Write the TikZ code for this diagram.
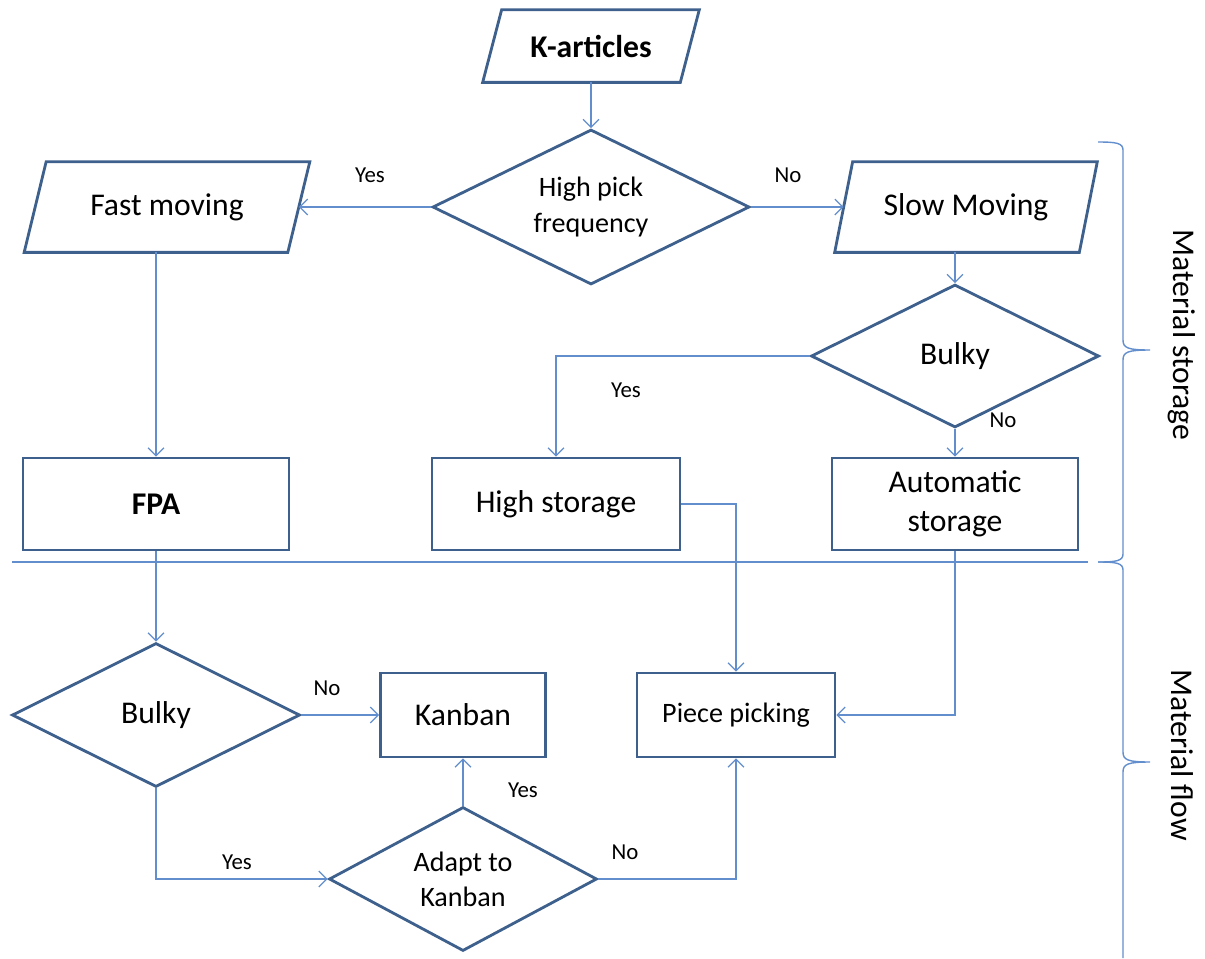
\documentclass[tikz,border=0pt]{standalone}
\usepackage{fontspec}
\setmainfont{Carlito}
\usepackage{tikz}
\usetikzlibrary{shapes.geometric, positioning, arrows.meta}

\definecolor{boxblue}{RGB}{62,96,140}
\definecolor{lineblue}{RGB}{98,142,205}

\tikzset{
  box/.style={draw=boxblue, line width=1.6pt, rectangle, align=center, inner sep=0pt,
    font=\fontsize{18}{22}\selectfont},
  slantbox/.style={rectangle, inner sep=0pt, font=\fontsize{18}{22}\selectfont},
  outline/.style={draw=boxblue, line width=1.6pt, line join=miter},
  decision/.style={draw=boxblue, line width=1.6pt, diamond, shape aspect=2, align=center, inner sep=0pt,
    font=\fontsize{16}{20}\selectfont},
  flow/.style={draw=lineblue, line width=0.7pt, -{Straight Barb[length=4.5pt,width=9pt]}},
  answer/.style={font=\fontsize{13}{15}\selectfont},
  bar/.style={draw=lineblue, line width=0.8pt}
}

\begin{document}
\begin{tikzpicture}[x=0.02cm, y=-0.02cm]
    \useasboundingbox (0,0) rectangle (1205,958);
    \clip (0,0) rectangle (1205,958);

    % material storage
    \node[slantbox, minimum width=3.94cm, minimum height=1.44cm, font=\fontsize{18}{22}\selectfont\bfseries]
        (kart) at (591,46) {K-articles};
    \draw[outline] ([xshift=-0.19cm]kart.south west) -- ([xshift=0.19cm]kart.north west)
        -- ([xshift=0.19cm]kart.north east) -- ([xshift=-0.19cm]kart.south east) -- cycle;
    \node[decision, minimum width=6.34cm, minimum height=3.1cm] (hpf) at (591,207) {High pick\\frequency};
    \node[slantbox, minimum width=5.26cm, minimum height=1.8cm] (fast) at (167,207) {Fast moving};
    \draw[outline] ([xshift=-0.22cm]fast.south west) -- ([xshift=0.22cm]fast.north west)
        -- ([xshift=0.22cm]fast.north east) -- ([xshift=-0.22cm]fast.south east) -- cycle;
    \node[slantbox, minimum width=4.88cm, minimum height=1.8cm] (slow) at (966,207) {Slow Moving};
    \draw[outline] ([xshift=-0.18cm]slow.south west) -- ([xshift=0.18cm]slow.north west)
        -- ([xshift=0.18cm]slow.north east) -- ([xshift=-0.18cm]slow.south east) -- cycle;
    \node[decision, minimum width=5.76cm, minimum height=2.86cm, font=\fontsize{18}{22}\selectfont]
        (bulkyA) at (955,356) {Bulky};
    \node[box, minimum width=5.32cm, minimum height=1.84cm, font=\fontsize{18}{22}\selectfont\bfseries]
        (fpa) at (156,504) {FPA};
    \node[box, minimum width=4.96cm, minimum height=1.84cm] (hstore) at (556,504) {High storage};
    \node[box, minimum width=4.92cm, minimum height=1.84cm] (astore) at (955,504) {Automatic\\storage};

    % material flow
    \node[decision, minimum width=5.76cm, minimum height=2.88cm, font=\fontsize{18}{22}\selectfont]
        (bulkyB) at (156,715) {Bulky};
    \node[box, minimum width=3.3cm, minimum height=1.68cm] (kanban) at (463,715) {Kanban};
    \node[box, minimum width=3.96cm, minimum height=1.68cm, font=\fontsize{16}{20}\selectfont]
        (pick) at (736,715) {Piece picking};
    \node[decision, minimum width=5.36cm, minimum height=2.88cm] (adapt) at (463,879) {Adapt to\\Kanban};

    % connectors
    \draw[flow] (kart.south) -- (hpf.north);
    \draw[flow] (hpf.west) -- (fast.east);
    \draw[flow] (hpf.east) -- (slow.west);
    \draw[flow] (fast.south -| fpa.north) -- (fpa.north);
    \draw[flow] (slow.south -| bulkyA.north) -- (bulkyA.north);
    \draw[flow] (bulkyA.west) -| (hstore.north);
    \draw[flow] (bulkyA.south) -- (astore.north);
    \draw[flow] (fpa.south) -- (bulkyB.north);
    \draw[flow] (bulkyB.east) -- (kanban.west);
    \draw[flow] (bulkyB.south) |- (adapt.west);
    \draw[flow] (adapt.north) -- (kanban.south);
    \draw[flow] (adapt.east) -| (pick.south);
    \draw[flow] (hstore.east) -| (pick.north);
    \draw[flow] (astore.south) |- (pick.east);

    % answers
    \node[answer] (yesA) at (370,175) {Yes};
    \node[answer] (noA) at (788,175) {No};
    \node[answer] (yesB) at (626,390) {Yes};
    \node[answer] (noB) at (1003,420) {No};
    \node[answer] (noC) at (327,688) {No};
    \node[answer] (yesC) at (523,790) {Yes};
    \node[answer] (yesD) at (237,862) {Yes};
    \node[answer] (noD) at (625,852) {No};

    % separator and braces
    \draw[bar] (12,562) -- (1088,562);
    \draw[bar] (1098,142) .. controls (1116,142) and (1123,143) .. (1123,150)
        -- (1123,340) .. controls (1123,348) and (1128,350) .. (1150,350)
        .. controls (1128,350) and (1123,352) .. (1123,360)
        -- (1123,554) .. controls (1123,561) and (1116,562) .. (1098,562);
    \draw[bar] (1098,562) .. controls (1116,562) and (1123,563) .. (1123,570)
        -- (1123,752) .. controls (1123,760) and (1128,762) .. (1150,762)
        .. controls (1128,762) and (1123,764) .. (1123,772)
        -- (1123,958);
    \node[rotate=-90, font=\fontsize{18}{22}\selectfont] (storage) at (1182,335) {Material storage};
    \node[rotate=-90, font=\fontsize{18}{22}\selectfont] (flowlbl) at (1182,755) {Material flow};
\end{tikzpicture}
\end{document}
